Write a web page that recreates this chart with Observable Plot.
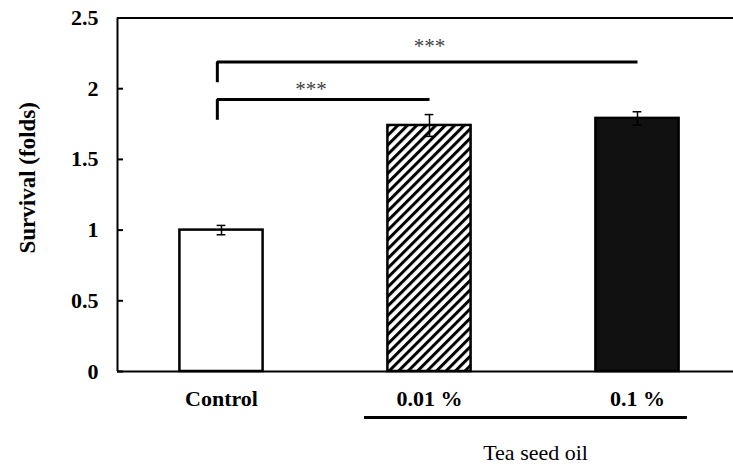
<!DOCTYPE html>
<html><head>
<meta charset="utf-8">
<script src="https://cdn.jsdelivr.net/npm/d3@7"></script>
<script src="https://cdn.jsdelivr.net/npm/@observablehq/plot@0.6"></script>
<style>body{margin:0;background:#fff}</style>
</head><body><div id="chart"></div>
<script>
// Data
const categories = ["Control", "0.01 %", "0.1 %"];
const survival = [1.00, 1.74, 1.79];
const errors = [0.033, 0.077, 0.047];
const fills = ["white", "url(#hatch)", "#111111"];
const yTicks = [0, 0.5, 1, 1.5, 2, 2.5];
const yLabel = "Survival (folds)";
const groupLabel = "Tea seed oil";
// significance comparisons
const compFrom = [0, 0];
const compTo = [1, 2];
const compTop = [1.924, 2.189];
const compBottom = [1.781, 2.046];
const compLabel = ["***", "***"];
const compLabelAt = [0.43, 1.0];
const compLabelY = [1.996, 2.30];

const bars = categories.map((c, i) => ({i, c, v: survival[i], e: errors[i], fill: fills[i]}));
const bracketPts = compFrom.flatMap((f, k) => [
  {k, x: f - 0.02, y: compBottom[k]},
  {k, x: f - 0.02, y: compTop[k]},
  {k, x: compTo[k], y: compTop[k]}
]);
const sigLabels = compLabel.map((t, k) => ({t, x: compLabelAt[k], y: compLabelY[k]}));

const svg = Plot.plot({
  width: 733, height: 464,
  marginLeft: 117, marginRight: 0, marginTop: 17.5, marginBottom: 93,
  style: {fontFamily: "Liberation Serif", fontSize: "22px", background: "white", color: "black"},
  x: {domain: [-0.5, 2.5], range: [117, 741], axis: null},
  y: {domain: [0, 2.5], axis: null},
  color: {type: "identity"},
  marks: [
    Plot.rectY(bars, {x1: d => d.i - 0.2, x2: d => d.i + 0.2, y1: 0, y2: "v", fill: "fill", stroke: "black", strokeWidth: 2.5}),
    Plot.ruleX(bars, {x: "i", y1: d => d.v - d.e, y2: d => d.v + d.e, strokeWidth: 1.5}),
    Plot.ruleY(bars, {y: d => d.v + d.e, x1: d => d.i - 0.021, x2: d => d.i + 0.021, strokeWidth: 1.5}),
    Plot.ruleY(bars, {y: d => d.v - d.e, x1: d => d.i - 0.021, x2: d => d.i + 0.021, strokeWidth: 1.5}),
    Plot.ruleY([0, 2.5], {strokeWidth: 2}),
    Plot.ruleX([-0.5], {strokeWidth: 2}),
    Plot.axisY({ticks: yTicks, tickSize: -6, tickPadding: 25, strokeWidth: 2, tickFormat: d => String(d), fontWeight: "bold", fontSize: 22, label: null}),
    Plot.line(bracketPts, {x: "x", y: "y", z: "k", strokeWidth: 3, strokeLinejoin: "miter", strokeLinecap: "butt"}),
    Plot.text(sigLabels, {x: "x", y: "y", text: "t", fontSize: 21, fill: "#444"}),
    Plot.text(categories, {x: (d, i) => i, y: 0, dy: 27, text: d => d, fontWeight: "bold", fontSize: 22}),
    Plot.ruleY([0], {x1: 0.6875, x2: 2.24, dy: 46, strokeWidth: 3}),
    Plot.text([groupLabel], {x: 1.51, y: 0, dy: 81, text: d => d, fontSize: 22}),
    Plot.text([yLabel], {frameAnchor: "left", textAnchor: "middle", dx: -90, dy: -17, rotate: -90, text: d => d, fontWeight: "bold", fontSize: 23})
  ]
});

const defs = d3.select(svg).insert("defs", ":first-child");
const pat = defs.append("pattern").attr("id", "hatch").attr("patternUnits", "userSpaceOnUse")
  .attr("width", 6.7).attr("height", 6.7).attr("patternTransform", "rotate(45)");
pat.append("rect").attr("width", 6.7).attr("height", 6.7).attr("fill", "white");
pat.append("rect").attr("width", 3).attr("height", 6.7).attr("fill", "black");

document.getElementById("chart").append(svg);
</script>
</body></html>
